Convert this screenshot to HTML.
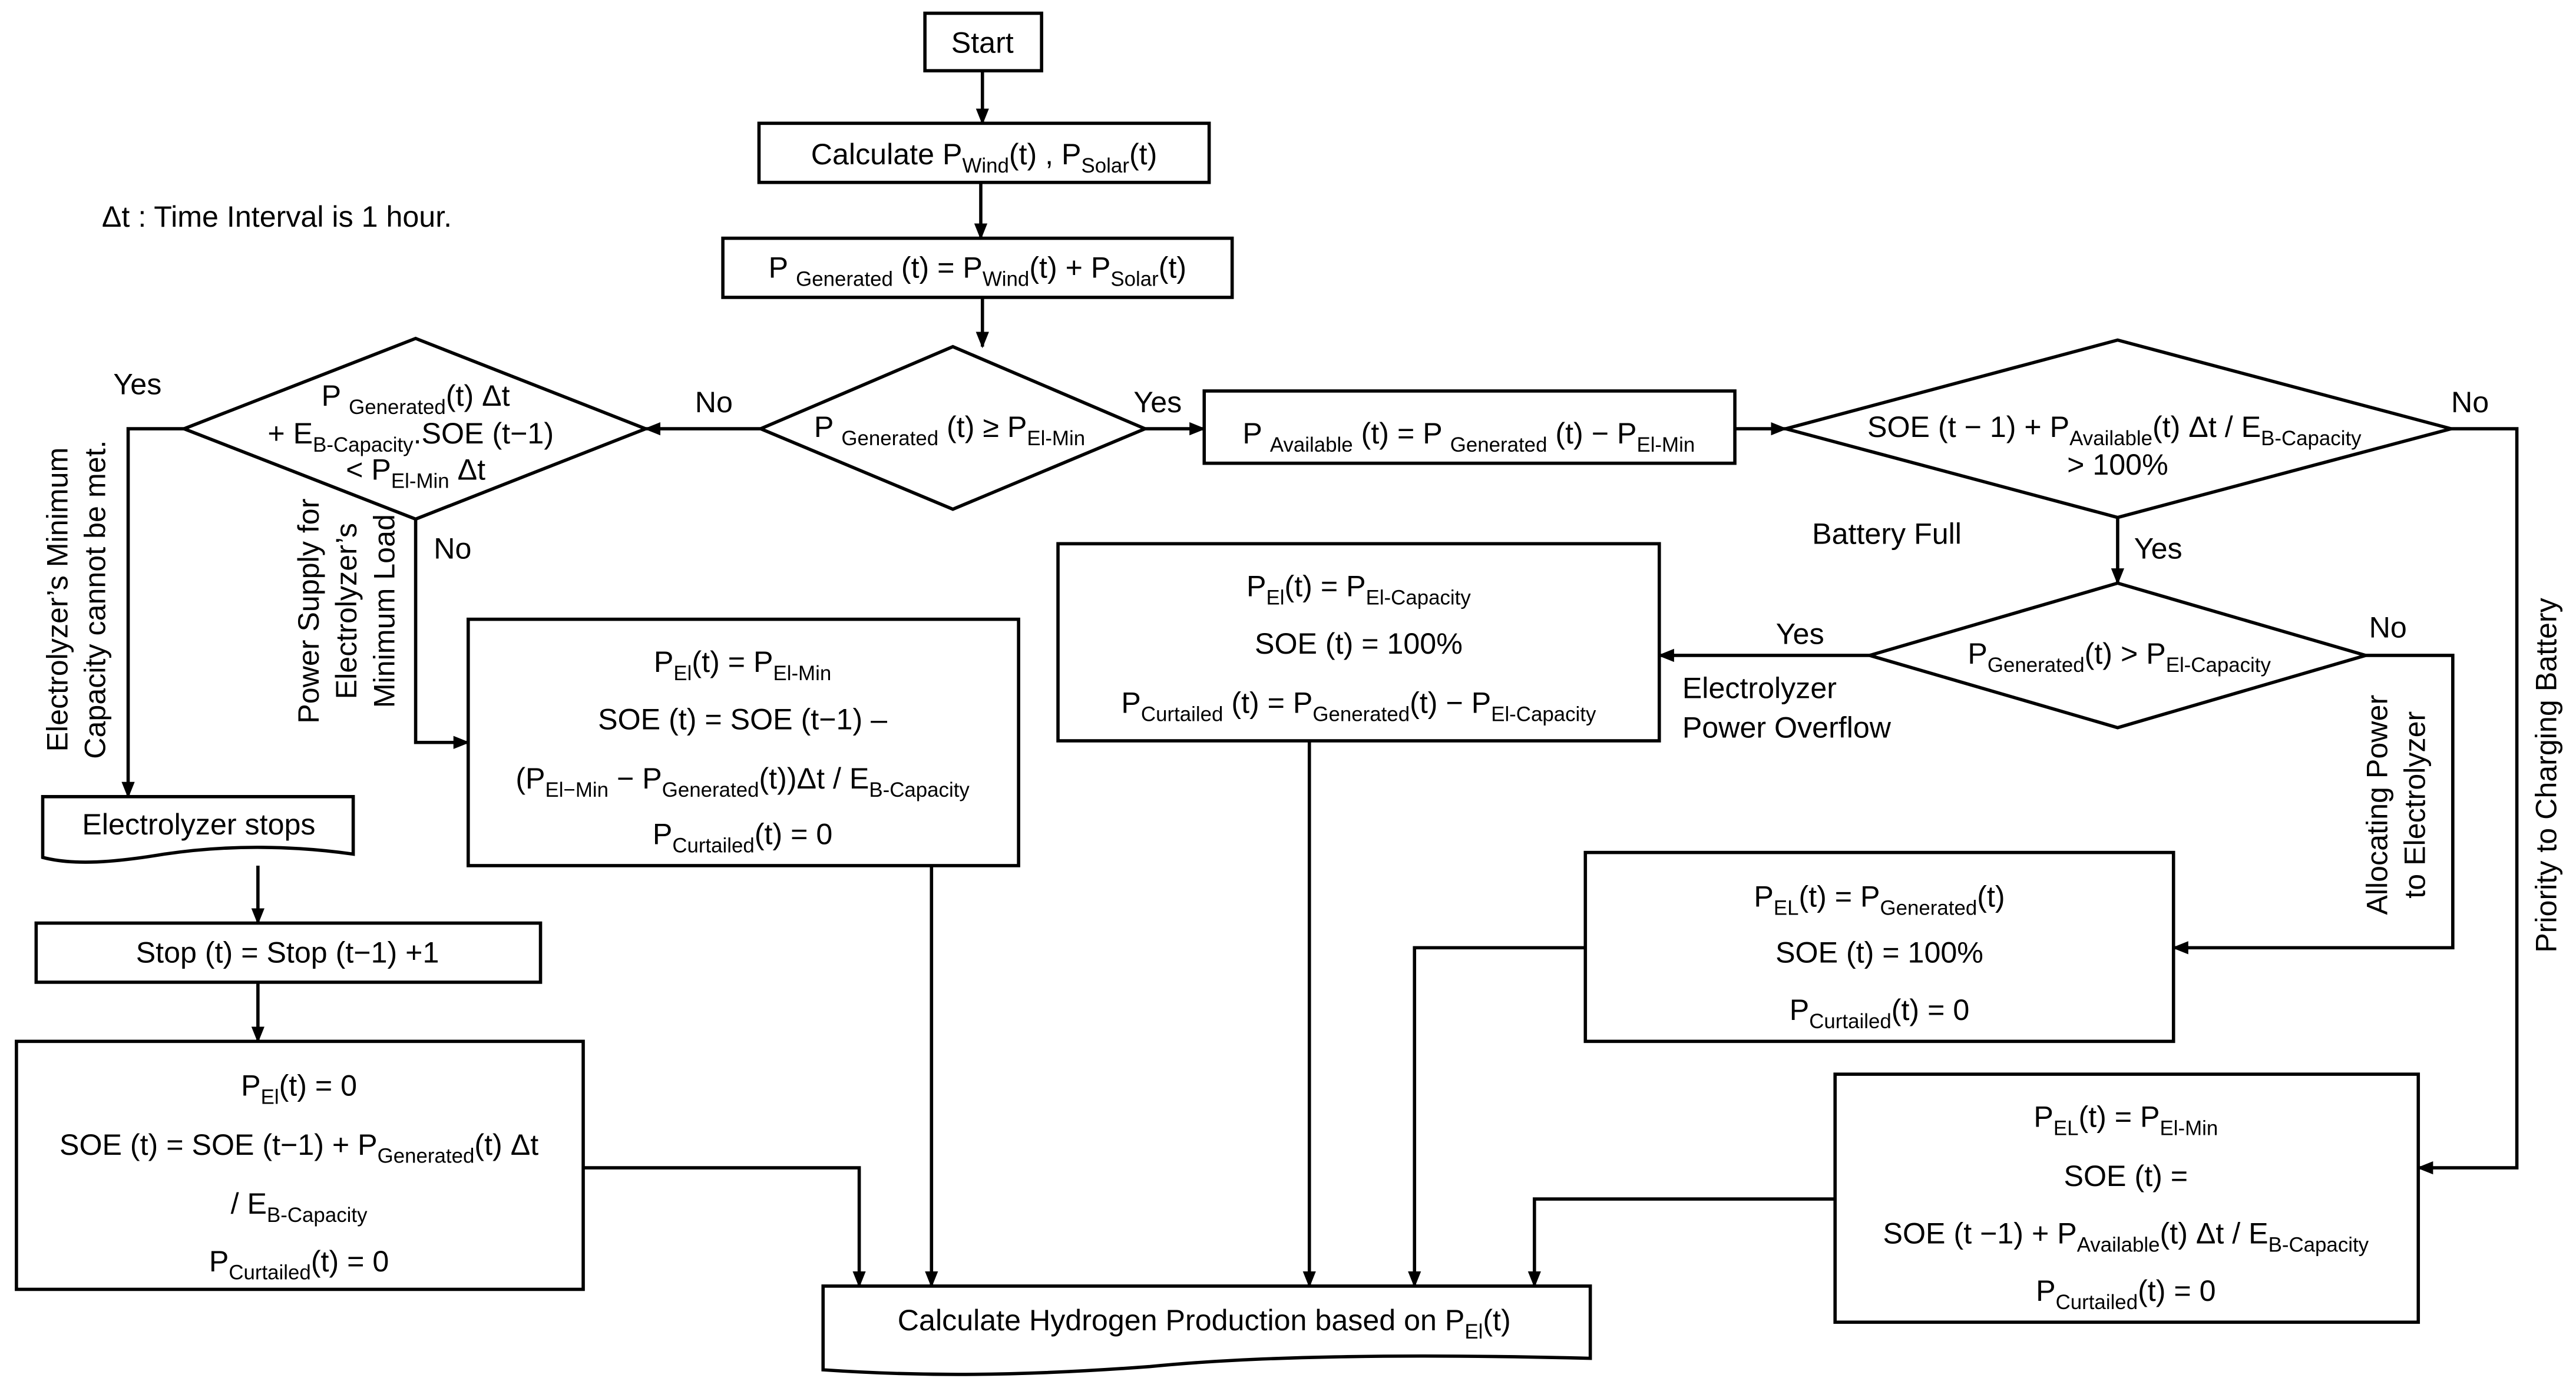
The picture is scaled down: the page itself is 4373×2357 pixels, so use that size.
<!DOCTYPE html>
<html><head><meta charset="utf-8"><style>
html,body{margin:0;padding:0;background:#fff}
svg{display:block}
text{font-family:"Liberation Sans",Arial,sans-serif;font-size:18px;fill:#000}
.s{font-size:12.5px}
</style></head><body>
<svg width="4373" height="2357" viewBox="0 0 1568 845" xmlns="http://www.w3.org/2000/svg">
<defs><marker id="a" markerWidth="10" markerHeight="10" refX="9" refY="5" orient="auto" markerUnits="userSpaceOnUse"><path d="M0,1 L10,5 L0,9 Z" fill="#000"/></marker></defs>
<g fill="none" stroke="#000" stroke-width="2">
<rect x="563" y="8" width="71" height="35"/>
<rect x="462" y="75" width="274" height="36"/>
<rect x="440" y="145" width="310" height="36"/>
<polygon points="463,261 580,211 697,261 580,310"/>
<polygon points="112,261 253,206 393,261 253,316"/>
<rect x="733" y="238" width="323" height="44"/>
<polygon points="1087,261 1289,207 1492,261 1289,315"/>
<polygon points="1138,399 1289,355 1440,399 1289,443"/>
<rect x="644" y="331" width="366" height="120"/>
<rect x="285" y="377" width="335" height="150"/>
<path d="M26,485 H215 V520 C180,515 140,514 100,520 C70,525 45,527 26,522 Z"/>
<rect x="22" y="562" width="307" height="36"/>
<rect x="10" y="634" width="345" height="151"/>
<rect x="965" y="519" width="358" height="115"/>
<rect x="1117" y="654" width="355" height="151"/>
<path d="M501,783 H968 V827 C850,824 760,826 700,832 C620,838 560,838 501,834 Z"/>
</g>
<g fill="none" stroke="#000" stroke-width="2" marker-end="url(#a)">
<path d="M598,43 V75"/><path d="M597,111 V145"/><path d="M598,181 V211"/>
<path d="M463,261 H393"/><path d="M697,261 H733"/><path d="M1056,261 H1087"/>
<path d="M1492,261 H1532 V711 H1472"/>
<path d="M1289,315 V355"/>
<path d="M1138,399 H1010"/>
<path d="M1440,399 H1493 V577 H1323"/>
<path d="M112,261 H78 V485"/>
<path d="M253,316 V452 H285"/>
<path d="M157,527 V562"/><path d="M157,598 V634"/>
<path d="M355,711 H523 V783"/>
<path d="M567,527 V783"/>
<path d="M797,451 V783"/>
<path d="M965,577 H861 V783"/>
<path d="M1117,730 H934 V783"/>
</g>
<text x="598" y="32" text-anchor="middle">Start</text>
<text x="599" y="100" text-anchor="middle">Calculate P<tspan class="s" dy="5">Wind</tspan><tspan dy="-5">(t) , P</tspan><tspan class="s" dy="5">Solar</tspan><tspan dy="-5">(t)</tspan></text>
<text x="595" y="169" text-anchor="middle">P <tspan class="s" dy="5">Generated</tspan><tspan dy="-5"> (t) = P</tspan><tspan class="s" dy="5">Wind</tspan><tspan dy="-5">(t) + P</tspan><tspan class="s" dy="5">Solar</tspan><tspan dy="-5">(t)</tspan></text>
<text x="62" y="138">Δt : Time Interval is 1 hour.</text>
<text x="578" y="266" text-anchor="middle">P <tspan class="s" dy="5">Generated</tspan><tspan dy="-5"> (t)  ≥ P</tspan><tspan class="s" dy="5">El-Min</tspan></text>
<text x="253" y="247" text-anchor="middle">P <tspan class="s" dy="5">Generated</tspan><tspan dy="-5">(t) Δt</tspan></text>
<text x="250" y="270" text-anchor="middle">+ E<tspan class="s" dy="5">B-Capacity</tspan><tspan dy="-5">.SOE (t−1)</tspan></text>
<text x="253" y="292" text-anchor="middle">&lt; P<tspan class="s" dy="5">El-Min</tspan><tspan dy="-5"> Δt</tspan></text>
<text x="894" y="270" text-anchor="middle">P <tspan class="s" dy="5">Available</tspan><tspan dy="-5"> (t) = P </tspan><tspan class="s" dy="5">Generated</tspan><tspan dy="-5"> (t) − P</tspan><tspan class="s" dy="5">El-Min</tspan></text>
<text x="1287" y="266" text-anchor="middle">SOE (t − 1) + P<tspan class="s" dy="5">Available</tspan><tspan dy="-5">(t) Δt / E</tspan><tspan class="s" dy="5">B-Capacity</tspan></text>
<text x="1289" y="289" text-anchor="middle">&gt; 100%</text>
<text x="1290" y="404" text-anchor="middle">P<tspan class="s" dy="5">Generated</tspan><tspan dy="-5">(t) &gt; P</tspan><tspan class="s" dy="5">El-Capacity</tspan></text>
<text x="827" y="363" text-anchor="middle">P<tspan class="s" dy="5">El</tspan><tspan dy="-5">(t) = P</tspan><tspan class="s" dy="5">El-Capacity</tspan></text>
<text x="827" y="398" text-anchor="middle">SOE (t)  = 100%</text>
<text x="827" y="434" text-anchor="middle">P<tspan class="s" dy="5">Curtailed</tspan><tspan dy="-5"> (t) = P</tspan><tspan class="s" dy="5">Generated</tspan><tspan dy="-5">(t) − P</tspan><tspan class="s" dy="5">El-Capacity</tspan></text>
<text x="452" y="409" text-anchor="middle">P<tspan class="s" dy="5">El</tspan><tspan dy="-5">(t) = P</tspan><tspan class="s" dy="5">El-Min</tspan></text>
<text x="452" y="444" text-anchor="middle">SOE (t) = SOE (t−1) –</text>
<text x="452" y="480" text-anchor="middle">(P<tspan class="s" dy="5">El−Min</tspan><tspan dy="-5"> − P</tspan><tspan class="s" dy="5">Generated</tspan><tspan dy="-5">(t))Δt / E</tspan><tspan class="s" dy="5">B-Capacity</tspan></text>
<text x="452" y="514" text-anchor="middle">P<tspan class="s" dy="5">Curtailed</tspan><tspan dy="-5">(t) = 0</tspan></text>
<text x="121" y="508" text-anchor="middle">Electrolyzer stops</text>
<text x="175" y="586" text-anchor="middle">Stop (t) = Stop (t−1) +1</text>
<text x="182" y="667" text-anchor="middle">P<tspan class="s" dy="5">El</tspan><tspan dy="-5">(t) = 0</tspan></text>
<text x="182" y="703" text-anchor="middle">SOE (t) = SOE (t−1) + P<tspan class="s" dy="5">Generated</tspan><tspan dy="-5">(t) Δt</tspan></text>
<text x="182" y="739" text-anchor="middle">/ E<tspan class="s" dy="5">B-Capacity</tspan></text>
<text x="182" y="774" text-anchor="middle">P<tspan class="s" dy="5">Curtailed</tspan><tspan dy="-5">(t) = 0</tspan></text>
<text x="1144" y="552" text-anchor="middle">P<tspan class="s" dy="5">EL</tspan><tspan dy="-5">(t) = P</tspan><tspan class="s" dy="5">Generated</tspan><tspan dy="-5">(t)</tspan></text>
<text x="1144" y="586" text-anchor="middle">SOE (t) = 100%</text>
<text x="1144" y="621" text-anchor="middle">P<tspan class="s" dy="5">Curtailed</tspan><tspan dy="-5">(t) = 0</tspan></text>
<text x="1294" y="686" text-anchor="middle">P<tspan class="s" dy="5">EL</tspan><tspan dy="-5">(t) = P</tspan><tspan class="s" dy="5">El-Min</tspan></text>
<text x="1294" y="722" text-anchor="middle">SOE (t) =</text>
<text x="1294" y="757" text-anchor="middle">SOE (t −1) + P<tspan class="s" dy="5">Available</tspan><tspan dy="-5">(t) Δt / E</tspan><tspan class="s" dy="5">B-Capacity</tspan></text>
<text x="1294" y="792" text-anchor="middle">P<tspan class="s" dy="5">Curtailed</tspan><tspan dy="-5">(t) = 0</tspan></text>
<text x="733" y="810" text-anchor="middle">Calculate Hydrogen Production based on P<tspan class="s" dy="5">El</tspan><tspan dy="-5">(t)</tspan></text>
<text x="423" y="251">No</text>
<text x="690" y="251">Yes</text>
<text x="1492" y="251">No</text>
<text x="69" y="240">Yes</text>
<text x="264" y="340">No</text>
<text x="1299" y="340">Yes</text>
<text x="1103" y="331">Battery Full</text>
<text x="1081" y="392">Yes</text>
<text x="1442" y="388">No</text>
<text x="1024" y="425">Electrolyzer</text>
<text x="1024" y="449">Power Overflow</text>
<text transform="translate(1556,472) rotate(-90)" text-anchor="middle">Priority to Charging Battery</text>
<text transform="translate(1453,490) rotate(-90)" text-anchor="middle">Allocating Power</text>
<text transform="translate(1476,490) rotate(-90)" text-anchor="middle">to Electrolyzer</text>
<text transform="translate(41,365) rotate(-90)" text-anchor="middle">Electrolyzer’s Minimum</text>
<text transform="translate(64,365) rotate(-90)" text-anchor="middle">Capacity cannot be met.</text>
<text transform="translate(194,372) rotate(-90)" text-anchor="middle">Power Supply for</text>
<text transform="translate(217,372) rotate(-90)" text-anchor="middle">Electrolyzer’s</text>
<text transform="translate(240,372) rotate(-90)" text-anchor="middle">Minimum Load</text>
</svg>
</body></html>
